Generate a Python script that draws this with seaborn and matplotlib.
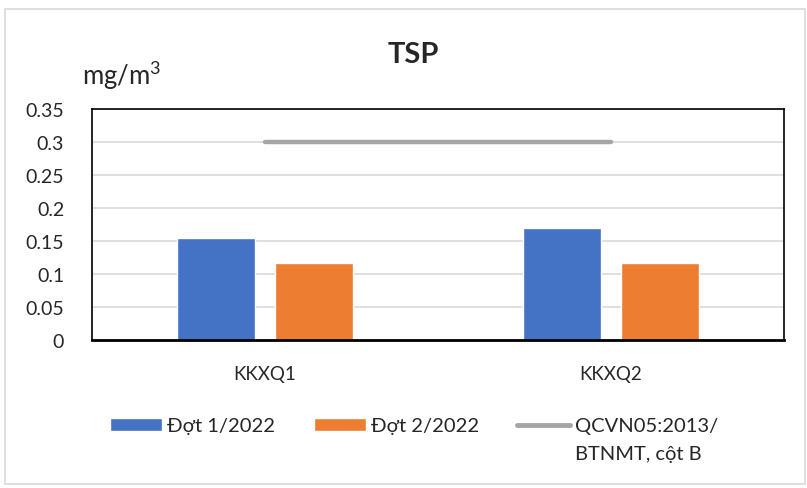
import numpy as np
import pandas as pd
import matplotlib
matplotlib.use('Agg')
import matplotlib.pyplot as plt
import seaborn as sns
from matplotlib.lines import Line2D
from matplotlib.patches import Patch, Rectangle

# data
sites = ['KKXQ1', 'KKXQ2']
dot1 = [0.154, 0.169]
dot2 = [0.117, 0.116]
limit = [0.3, 0.3]
series = ['Đợt 1/2022', 'Đợt 2/2022']
limit_label = ['QCVN05:2013/', 'BTNMT, cột B']

colors = ['#4472C4', '#ED7D31']
limit_color = '#A5A5A5'

sns.set_style('white')
plt.rcParams['font.family'] = ['Lato', 'DejaVu Sans']

df = pd.DataFrame({
    'site': sites * 2,
    'value': dot1 + dot2,
    'series': [series[0]] * len(sites) + [series[1]] * len(sites),
})

fig = plt.figure(figsize=(8.07, 4.89), dpi=100)
ax = fig.add_axes([0.114, 0.3027, 0.8575, 0.4723])

sns.barplot(data=df, x='site', y='value', hue='series', order=sites,
            hue_order=series, palette=colors, width=0.567, gap=0.21,
            saturation=1, ax=ax, legend=False)

# limit line from first to last category
ax.plot(np.arange(len(sites)), limit, color=limit_color, linewidth=3.2,
        solid_capstyle='round', zorder=3)

ax.set_ylim(0, 0.35)
ax.set_xlim(-0.5, len(sites) - 0.5)
ax.set_yticks(np.arange(0, 0.351, 0.05))
ax.set_yticklabels(['0', '0.05', '0.1', '0.15', '0.2', '0.25', '0.3', '0.35'])
ax.yaxis.grid(True, color='#D9D9D9', linewidth=1.2)
ax.set_axisbelow(True)
ax.tick_params(axis='y', length=0, pad=20, labelsize=14)
ax.tick_params(axis='x', length=0, pad=18, labelsize=13.5)
ax.set_xlabel('')
ax.set_ylabel('')
for s in ax.spines.values():
    s.set_color('black')
    s.set_linewidth(1.2)
ax.spines['bottom'].set_linewidth(2)

fig.text(0.5125, 0.8875, 'TSP', ha='center', va='center', fontsize=21,
         fontweight='bold')
fig.text(0.102, 0.845, r'$\mathregular{mg/m^3}$', ha='left', va='center',
         fontsize=18.5)

handles = [Patch(facecolor=colors[0]), Patch(facecolor=colors[1]),
           Line2D([0], [0], color=limit_color, linewidth=3.5,
                  solid_capstyle='round')]
leg = fig.legend(handles, series + [limit_label[0]], loc='center left',
                 bbox_to_anchor=(0.1363, 0.1268), ncol=3, frameon=False,
                 fontsize=14.5, handlelength=2.6, handleheight=0.65,
                 handletextpad=0.25, columnspacing=1.9, borderpad=0,
                 borderaxespad=0)

# second line of the limit label, under the first
fig.canvas.draw()
bb = leg.get_texts()[2].get_window_extent()
fig.text(bb.x0 / fig.bbox.width, (bb.y0 - 28) / fig.bbox.height,
         limit_label[1], ha='left', va='bottom', fontsize=14.5)

# outer chart border
fig.patches.append(Rectangle((0.006, 0.008), 0.992, 0.972,
                             transform=fig.transFigure, fill=False,
                             edgecolor='#D9D9D9', linewidth=1.2))

fig.savefig('out.png', dpi=100, facecolor='white')
